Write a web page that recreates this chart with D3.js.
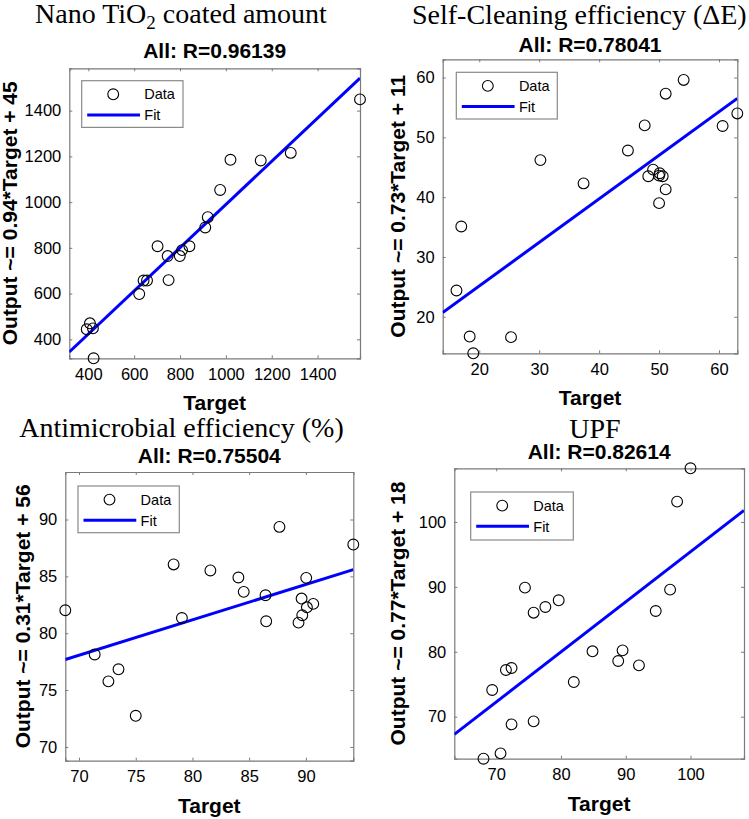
<!DOCTYPE html>
<html>
<head>
<meta charset="utf-8">
<script src="https://cdn.jsdelivr.net/npm/d3@7"></script>
<style>
  html, body { margin: 0; padding: 0; background: #ffffff; }
  svg { display: block; }
</style>
</head>
<body>
<svg id="chart" width="749" height="819"></svg>
<script>
// ---------------- DATA ----------------
const panelTitles = ["Nano TiO|2| coated amount", "Self-Cleaning efficiency (ΔE)", "Antimicrobial efficiency (%)", "UPF"];
const rValues = ["0.96139", "0.78041", "0.75504", "0.82614"];
const fitLabels = ["Output ~= 0.94*Target + 45", "Output ~= 0.73*Target + 11", "Output ~= 0.31*Target + 56", "Output ~= 0.77*Target + 18"];
const fitSlopes = [0.944, 0.728, 0.311, 0.771];
const fitIntercepts = [45.4, 10.6, 56.3, 18.3];

const ticks1 = [400, 600, 800, 1000, 1200, 1400];
const ticks2 = [20, 30, 40, 50, 60];
const ticks3 = [70, 75, 80, 85, 90];
const ticks4 = [70, 80, 90, 100];

const target1 = [1585, 1020, 1152, 1283, 975, 921, 910, 702, 841, 809, 799, 746, 750, 641, 656, 622, 407, 393, 420, 423];
const output1 = [1449, 1185, 1182, 1215, 1053, 934, 889, 807, 807, 790, 764, 764, 659, 657, 657, 598, 470, 444, 448, 317];

const target2 = [54.1, 51.1, 47.6, 60.6, 63.05, 44.8, 30.2, 37.4, 49.0, 48.2, 50.1, 50.6, 50.0, 51.1, 50.0, 17.0, 16.2, 18.4, 25.3, 19.0];
const output2 = [59.6, 57.3, 52.0, 51.9, 54.0, 47.8, 46.2, 42.3, 44.6, 43.5, 44.0, 43.5, 43.6, 41.3, 39.0, 35.1, 24.4, 16.7, 16.6, 13.9];

const target3 = [94.18, 87.67, 78.34, 81.58, 84.05, 84.52, 90.03, 86.44, 89.62, 90.65, 90.09, 89.68, 89.35, 86.5, 79.07, 68.79, 71.38, 73.48, 72.59, 75.0];
const output3 = [87.8, 89.35, 86.05, 85.52, 84.9, 83.64, 84.87, 83.34, 83.05, 82.58, 82.28, 81.58, 80.93, 81.05, 81.34, 82.02, 78.13, 76.83, 75.77, 72.74];

const target4 = [100.0, 97.93, 96.85, 94.63, 74.44, 79.65, 77.59, 75.78, 84.87, 89.51, 88.84, 92.04, 81.98, 71.5, 72.37, 69.38, 72.37, 75.78, 70.67, 68.04];
const output4 = [108.26, 103.13, 89.57, 86.28, 89.88, 87.93, 86.9, 86.02, 80.07, 80.22, 78.58, 77.91, 75.34, 77.19, 77.5, 74.11, 68.82, 69.28, 64.35, 63.53];

const legendLabels = ["Data", "Fit"];
const xAxisLabel = "Target";

// ---------------- LAYOUT ----------------
const boxes = [
  {l: 69.3, r: 360, t: 68.3, b: 358.3},
  {l: 442.7, r: 737.3, t: 59.3, b: 353.3},
  {l: 65.3, r: 353.3, t: 472, b: 760.7},
  {l: 454.3, r: 744, t: 468.3, b: 758.7}
];
const titlePos = [
  {x: 181, y: 22.5, anchor: "middle"},
  {x: 412, y: 23.5, anchor: "start"},
  {x: 181.5, y: 437, anchor: "middle"},
  {x: 595, y: 438, anchor: "middle"}
];
const subtitleY = [58.3, 51.7, 463.3, 459.3];
const yLabelX = [17, 405, 30, 405];
const legendPos = [
  {dx: 12.4, dy: 12.4, w: 101.3, h: 46.7},
  {dx: 13.6, dy: 13, w: 101, h: 46.7},
  {dx: 12.7, dy: 14, w: 101.3, h: 46.7},
  {dx: 16.4, dy: 23.7, w: 102.6, h: 48}
];

const panels = [
  {t: target1, o: output1, ticks: ticks1},
  {t: target2, o: output2, ticks: ticks2},
  {t: target3, o: output3, ticks: ticks3},
  {t: target4, o: output4, ticks: ticks4}
];

const svg = d3.select("#chart");
const sans = "'Liberation Sans', Arial, Helvetica, sans-serif";
const serif = "'Liberation Serif', 'Times New Roman', serif";
const boxColor = "#7a7a7a";

panels.forEach((p, i) => {
  const b = boxes[i];
  const all = p.t.concat(p.o);
  const lim = d3.extent(all);
  const x = d3.scaleLinear().domain(lim).range([b.l, b.r]);
  const y = d3.scaleLinear().domain(lim).range([b.b, b.t]);
  const g = svg.append("g");
  const cx = (b.l + b.r) / 2, cy = (b.t + b.b) / 2;

  // clip for fit line
  const clipId = "clip" + i;
  svg.append("clipPath").attr("id", clipId)
    .append("rect").attr("x", b.l).attr("y", b.t).attr("width", b.r - b.l).attr("height", b.b - b.t);

  // axes (ticks inward on all four sides)
  const axB = d3.axisBottom(x).tickValues(p.ticks).tickSize(-3).tickPadding(10).tickFormat(d3.format("d"));
  const axL = d3.axisLeft(y).tickValues(p.ticks).tickSize(-3).tickPadding(8).tickFormat(d3.format("d"));
  const axT = d3.axisTop(x).tickValues(p.ticks).tickSize(-3).tickFormat("");
  const axR = d3.axisRight(y).tickValues(p.ticks).tickSize(-3).tickFormat("");

  const gb = g.append("g").attr("transform", `translate(0,${b.b})`).call(axB);
  const gl = g.append("g").attr("transform", `translate(${b.l},0)`).call(axL);
  const gt = g.append("g").attr("transform", `translate(0,${b.t})`).call(axT);
  const gr = g.append("g").attr("transform", `translate(${b.r},0)`).call(axR);
  [gb, gl, gt, gr].forEach(a => {
    a.select(".domain").attr("stroke", boxColor).attr("stroke-width", 1.2);
    a.selectAll(".tick line").attr("stroke", boxColor).attr("stroke-width", 1);
    a.selectAll(".tick text").attr("fill", "#000").style("font-family", sans).style("font-size", "16.5px");
  });

  // fit line
  g.append("line")
    .attr("clip-path", `url(#${clipId})`)
    .attr("x1", x(lim[0])).attr("y1", y(fitSlopes[i] * lim[0] + fitIntercepts[i]))
    .attr("x2", x(lim[1])).attr("y2", y(fitSlopes[i] * lim[1] + fitIntercepts[i]))
    .attr("stroke", "#0000ff").attr("stroke-width", 3);

  // data points
  g.selectAll("circle.pt").data(p.t.map((d, k) => [d, p.o[k]])).enter()
    .append("circle").attr("class", "pt")
    .attr("cx", d => x(d[0])).attr("cy", d => y(d[1])).attr("r", 5.4)
    .attr("fill", "none").attr("stroke", "#000").attr("stroke-width", 1.1);

  // legend
  const lp = legendPos[i];
  const lx = b.l + lp.dx, ly = b.t + lp.dy;
  const lg = g.append("g").attr("transform", `translate(${lx},${ly})`);
  lg.append("rect").attr("width", lp.w).attr("height", lp.h).attr("fill", "#fff").attr("stroke", "#8a8a8a").attr("stroke-width", 1.2);
  lg.append("circle").attr("cx", 31.5).attr("cy", 13.6).attr("r", 5.4).attr("fill", "none").attr("stroke", "#000").attr("stroke-width", 1.1);
  lg.append("text").attr("x", 62.6).attr("y", 18.8).text(legendLabels[0]).style("font-family", sans).style("font-size", "14.5px");
  lg.append("line").attr("x1", 5.5).attr("x2", 58.3).attr("y1", 34.3).attr("y2", 34.3).attr("stroke", "#0000ff").attr("stroke-width", 3);
  lg.append("text").attr("x", 62.6).attr("y", 39.5).text(legendLabels[1]).style("font-family", sans).style("font-size", "14.5px");

  // subtitle "All: R=..."
  g.append("text").attr("x", cx).attr("y", subtitleY[i]).attr("text-anchor", "middle")
    .style("font-family", sans).style("font-weight", "bold").style("font-size", "21px")
    .text("All: R=" + rValues[i]);

  // x label
  g.append("text").attr("x", cx).attr("y", b.b + 52).attr("text-anchor", "middle")
    .style("font-family", sans).style("font-weight", "bold").style("font-size", "21px")
    .text(xAxisLabel);

  // y label
  g.append("text").attr("transform", `translate(${yLabelX[i]},${cy}) rotate(-90)`).attr("text-anchor", "middle")
    .style("font-family", sans).style("font-weight", "bold").style("font-size", "21px")
    .text(fitLabels[i]);

  // panel title (serif), with optional subscript part between | |
  const tp = titlePos[i];
  const tt = g.append("text").attr("x", tp.x).attr("y", tp.y).attr("text-anchor", tp.anchor)
    .style("font-family", serif).style("font-size", "28px");
  const parts = panelTitles[i].split("|");
  if (parts.length === 3) {
    tt.append("tspan").text(parts[0]);
    tt.append("tspan").attr("dy", 6).style("font-size", "19px").text(parts[1]);
    tt.append("tspan").attr("dy", -6).text(parts[2]);
  } else {
    tt.text(panelTitles[i]);
  }
});
</script>
</body>
</html>
